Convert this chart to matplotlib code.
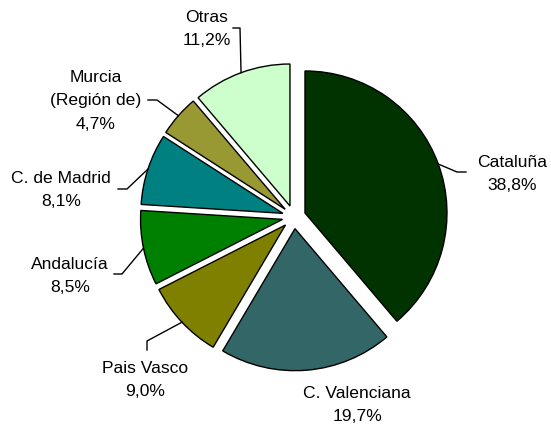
import numpy as np
import matplotlib.pyplot as plt

plt.rcParams['font.family'] = ['Liberation Sans', 'DejaVu Sans']

regions = ["Cataluña", "C. Valenciana", "Pais Vasco", "Andalucía",
           "C. de Madrid", "Murcia\n(Región de)", "Otras"]
shares = [38.8, 19.7, 9.0, 8.5, 8.1, 4.7, 11.2]
colors = ["#003300", "#336666", "#808000", "#008000", "#008080", "#999933", "#CCFFCC"]

W, H = 551, 427
# label centre and leader-line elbow/end (pixel coords, y down)
label_pos = [(512, 174), (357, 405), (145, 380), (70, 276), (61, 190), (96, 101), (207, 29)]
leaders = [[(457, 173), (466, 173)], None, [(147, 342), (147, 351)],
           [(122, 275), (114, 275)], [(127, 190), (118, 190)],
           [(157, 101), (148, 101)], [(240, 29), (233, 29)]]

fig = plt.figure(figsize=(W / 100, H / 100), dpi=100)
ax = fig.add_axes([0, 0, 1, 1])
ax.axis('off')

cx, cy, r = 294, H - 218, 142
wedges, _ = ax.pie(shares, colors=colors, startangle=90, counterclock=False,
                   explode=[11.7] * len(shares), radius=r, center=(cx, cy),
                   wedgeprops=dict(edgecolor='black', linewidth=1.0),
                   normalize=True)
ax.set_xlim(0, W)
ax.set_ylim(0, H)
ax.set_aspect('equal')

for w, name, val, (lx, ly), lead in zip(wedges, regions, shares, label_pos, leaders):
    txt = name + "\n" + f"{val:.1f}%".replace('.', ',')
    ax.text(lx, H - ly, txt, ha='center', va='center', fontsize=12.6,
            linespacing=1.68, color='black')
    if lead is None:
        continue
    mid = np.deg2rad((w.theta1 + w.theta2) / 2)
    px = w.center[0] + w.r * np.cos(mid)
    py = w.center[1] + w.r * np.sin(mid)
    xs = [px] + [p[0] for p in lead]
    ys = [py] + [H - p[1] for p in lead]
    ax.plot(xs, ys, color='black', linewidth=1.0)

fig.savefig("out.png", dpi=100)
